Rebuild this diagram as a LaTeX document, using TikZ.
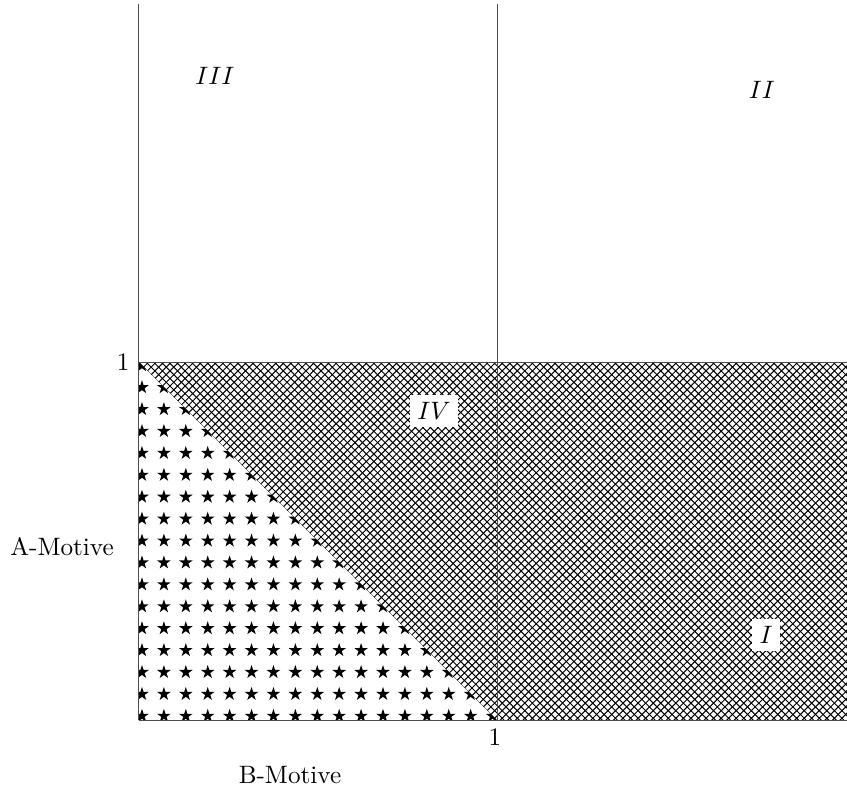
\documentclass[tikz,border=0pt]{standalone}
\usetikzlibrary{patterns}
\begin{document}
\begin{tikzpicture}[
  axis/.style={line width=0.4pt, black!70},
  region/.style={fill=white, inner sep=3pt},
  lbl/.style={inner sep=2pt},
  starmark/.style={fill=black, nonzero rule}
]
\useasboundingbox (-1.941,-0.978) rectangle (9.888,10.056);
\clip (-1.941,-0.978) rectangle (9.888,10.056);
% patterns
\fill[pattern=crosshatch] (0,5) -- (10,5) -- (10,0) -- (5,0) -- cycle;
\begin{scope}
  \clip (0,0) -- (5,0) -- (0,5) -- cycle;
  \foreach \i in {0,...,16} {
    \foreach \j in {0,...,16} {
      \fill[starmark, shift={(0.042+0.306*\i, 0.056+0.306*\j)}]
        (90:0.1) -- (234:0.1) -- (18:0.1) -- (162:0.1) -- (306:0.1) -- cycle;
    }
  }
\end{scope}
% lines
\coordinate (o) at (0,0);
\coordinate (ytop) at (0,10);
\coordinate (x1) at (5,0);
\coordinate (x1top) at (5,10);
\coordinate (y1) at (0,5);
\coordinate (rtop) at (10,5);
\coordinate (rbot) at (10,0);
\draw[axis] (o) -- (ytop);
\draw[axis] (x1) -- (x1top);
\draw[axis] (y1) -- (rtop);
\draw[axis] (o) -- (rbot);
% labels
\node[lbl] (one-y) at (-0.22,5) {1};
\node[lbl] (one-x) at (4.97,-0.24) {1};
\node[lbl] (amot) at (-1.075,2.416) {A-Motive};
\node[lbl] (bmot) at (2.109,-0.768) {B-Motive};
\node[lbl] (r3) at (1.06,8.99) {$III$};
\node[lbl] (r2) at (8.70,8.80) {$II$};
\node[region] (r4) at (4.12,4.316) {$IV$};
\node[region] (r1) at (8.757,1.187) {$I$};
\end{tikzpicture}
\end{document}
